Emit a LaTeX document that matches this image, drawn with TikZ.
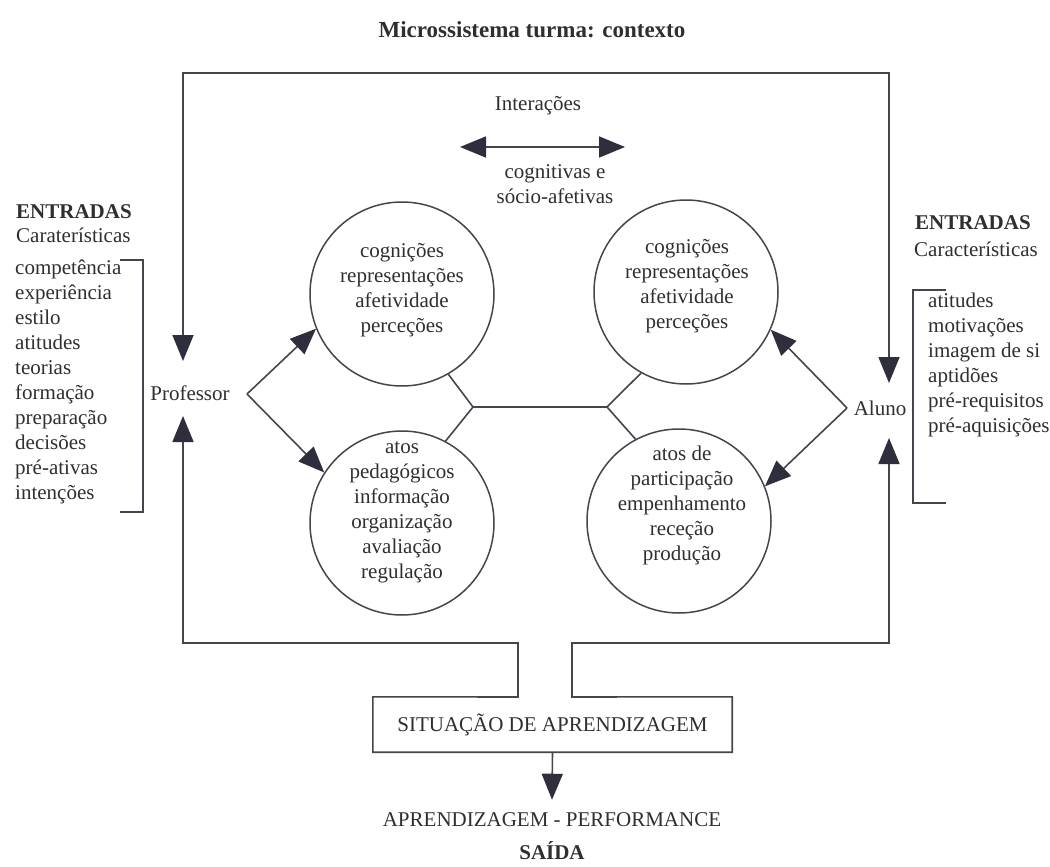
\documentclass[tikz,border=0pt]{standalone}
\usepackage{fontspec}
\setmainfont{Liberation Serif}
\usetikzlibrary{arrows.meta}
\definecolor{lncol}{HTML}{45454E}
\definecolor{tipcol}{HTML}{2E2E3C}
\definecolor{txtcol}{HTML}{2F2F2F}
\begin{document}
\begin{tikzpicture}[x=1pt,y=-1pt,
  ln/.style={draw=lncol, line width=1.6pt},
  tri/.tip={Triangle[length=26pt,width=21pt,fill=tipcol,color=tipcol]},
  arr/.style={ln,-tri},
  arrboth/.style={ln,tri-tri},
  circ/.style={circle, draw=lncol, line width=1.5pt, minimum size=184pt, inner sep=0pt},
  txt/.style={text=txtcol, font=\fontsize{21}{25}\selectfont, inner sep=2pt},
  ctxt/.style={txt, align=center},
  ltxt/.style={txt, align=left, anchor=west},
  btxt/.style={text=txtcol, font=\fontsize{21}{25}\selectfont\bfseries, inner sep=2pt}
]
\useasboundingbox (0,0) rectangle (1050,867);
\fill[white] (0,0) rectangle (1050,867);

% title
\node[btxt, font=\fontsize{23}{27}\selectfont\bfseries] (title) at (532,30) {Microssistema turma: contexto};

% interactions
\node[txt] (inter) at (538,106) {Interações};
\coordinate (ia) at (460,147);
\coordinate (ib) at (625,147);
\draw[arrboth] (ia) -- (ib);
\node[ctxt] (cog) at (555,184) {cognitivas e\\sócio-afetivas};

% circles
\node[circ] (tl) at (402,294) {};
\node[circ] (tr) at (686,292) {};
\node[circ] (bl) at (402,523) {};
\node[circ] (br) at (679,521) {};
\node[ctxt] (tlt) at (402,290) {cognições\\representações\\afetividade\\perceções};
\node[ctxt] (trt) at (687,286) {cognições\\representações\\afetividade\\perceções};
\node[ctxt] (blt) at (402,512) {atos\\pedagógicos\\informação\\organização\\avaliação\\regulação};
\node[ctxt] (brt) at (682,505) {atos de\\participação\\empenhamento\\receção\\produção};

% junction between circles
\coordinate (jl) at (473,407);
\coordinate (jr) at (607,407);
\draw[ln] (tl.300) -- (jl) -- (bl.62);
\draw[ln] (jl) -- (jr);
\draw[ln] (tr.241) -- (jr) -- (br.118);

% Professor and Aluno
\node[txt] (prof) at (190,393) {Professor};
\node[txt] (aluno) at (880,408) {Aluno};
\coordinate (pj) at (247,394);
\coordinate (aj) at (847,408);
\draw[arr] (pj) -- (tl.202);
\draw[arr] (pj) -- (bl.147);
\draw[arr] (aj) -- (tr.336);
\draw[arr] (aj) -- (br.22);

% top frame
\coordinate (pdn) at (183,361);
\coordinate (adn) at (889,383);
\coordinate (ctl) at (183,73);
\coordinate (ctr) at (889,73);
\draw[arrboth] (pdn) -- (ctl) -- (ctr) -- (adn);

% learning situation
\node[txt, minimum width=359pt, minimum height=55pt] (sit) at (552.5,724.5) {SITUAÇÃO DE APRENDIZAGEM};
\coordinate (pup) at (183,416);
\coordinate (aup) at (889,438);
\coordinate (cbl) at (183,643);
\coordinate (cbr) at (889,643);
\coordinate (sl1) at (518,643);
\coordinate (sl2) at (518,697);
\coordinate (sr1) at (572,643);
\coordinate (sr2) at (572,697);
\draw[arrboth] (pup) -- (cbl) -- (sl1) -- (sl2) -- (sit.north west) -- (sit.south west)
  -- (sit.south east) -- (sit.north east) -- (sr2) -- (sr1) -- (cbr) -- (aup);

% output
\node[txt] (perf) at (552,820) {APRENDIZAGEM - PERFORMANCE};
\node[btxt] (saida) at (552,851) {SAÍDA};
\draw[arr] (sit.south) -- ([yshift=11pt]perf.north);

% left inputs
\node[btxt, anchor=west] (entl) at (14,212) {ENTRADAS};
\node[ltxt] (carl) at (14,235) {Caraterísticas};
\node[ltxt] (listl) at (13,382) {competência\\experiência\\estilo\\atitudes\\teorias\\formação\\preparação\\decisões\\pré-ativas\\intenções};
\draw[ln] (120,260) -- (143,260) -- (143,512) -- (120,512);

% right inputs
\node[btxt, anchor=west] (entr) at (913,223) {ENTRADAS};
\node[ltxt] (carr) at (912,249) {Características};
\node[ltxt] (listr) at (926,365) {atitudes\\motivações\\imagem de si\\aptidões\\pré-requisitos\\pré-aquisições};
\draw[ln] (946,290) -- (913,290) -- (913,503) -- (946,503);
\end{tikzpicture}
\end{document}
